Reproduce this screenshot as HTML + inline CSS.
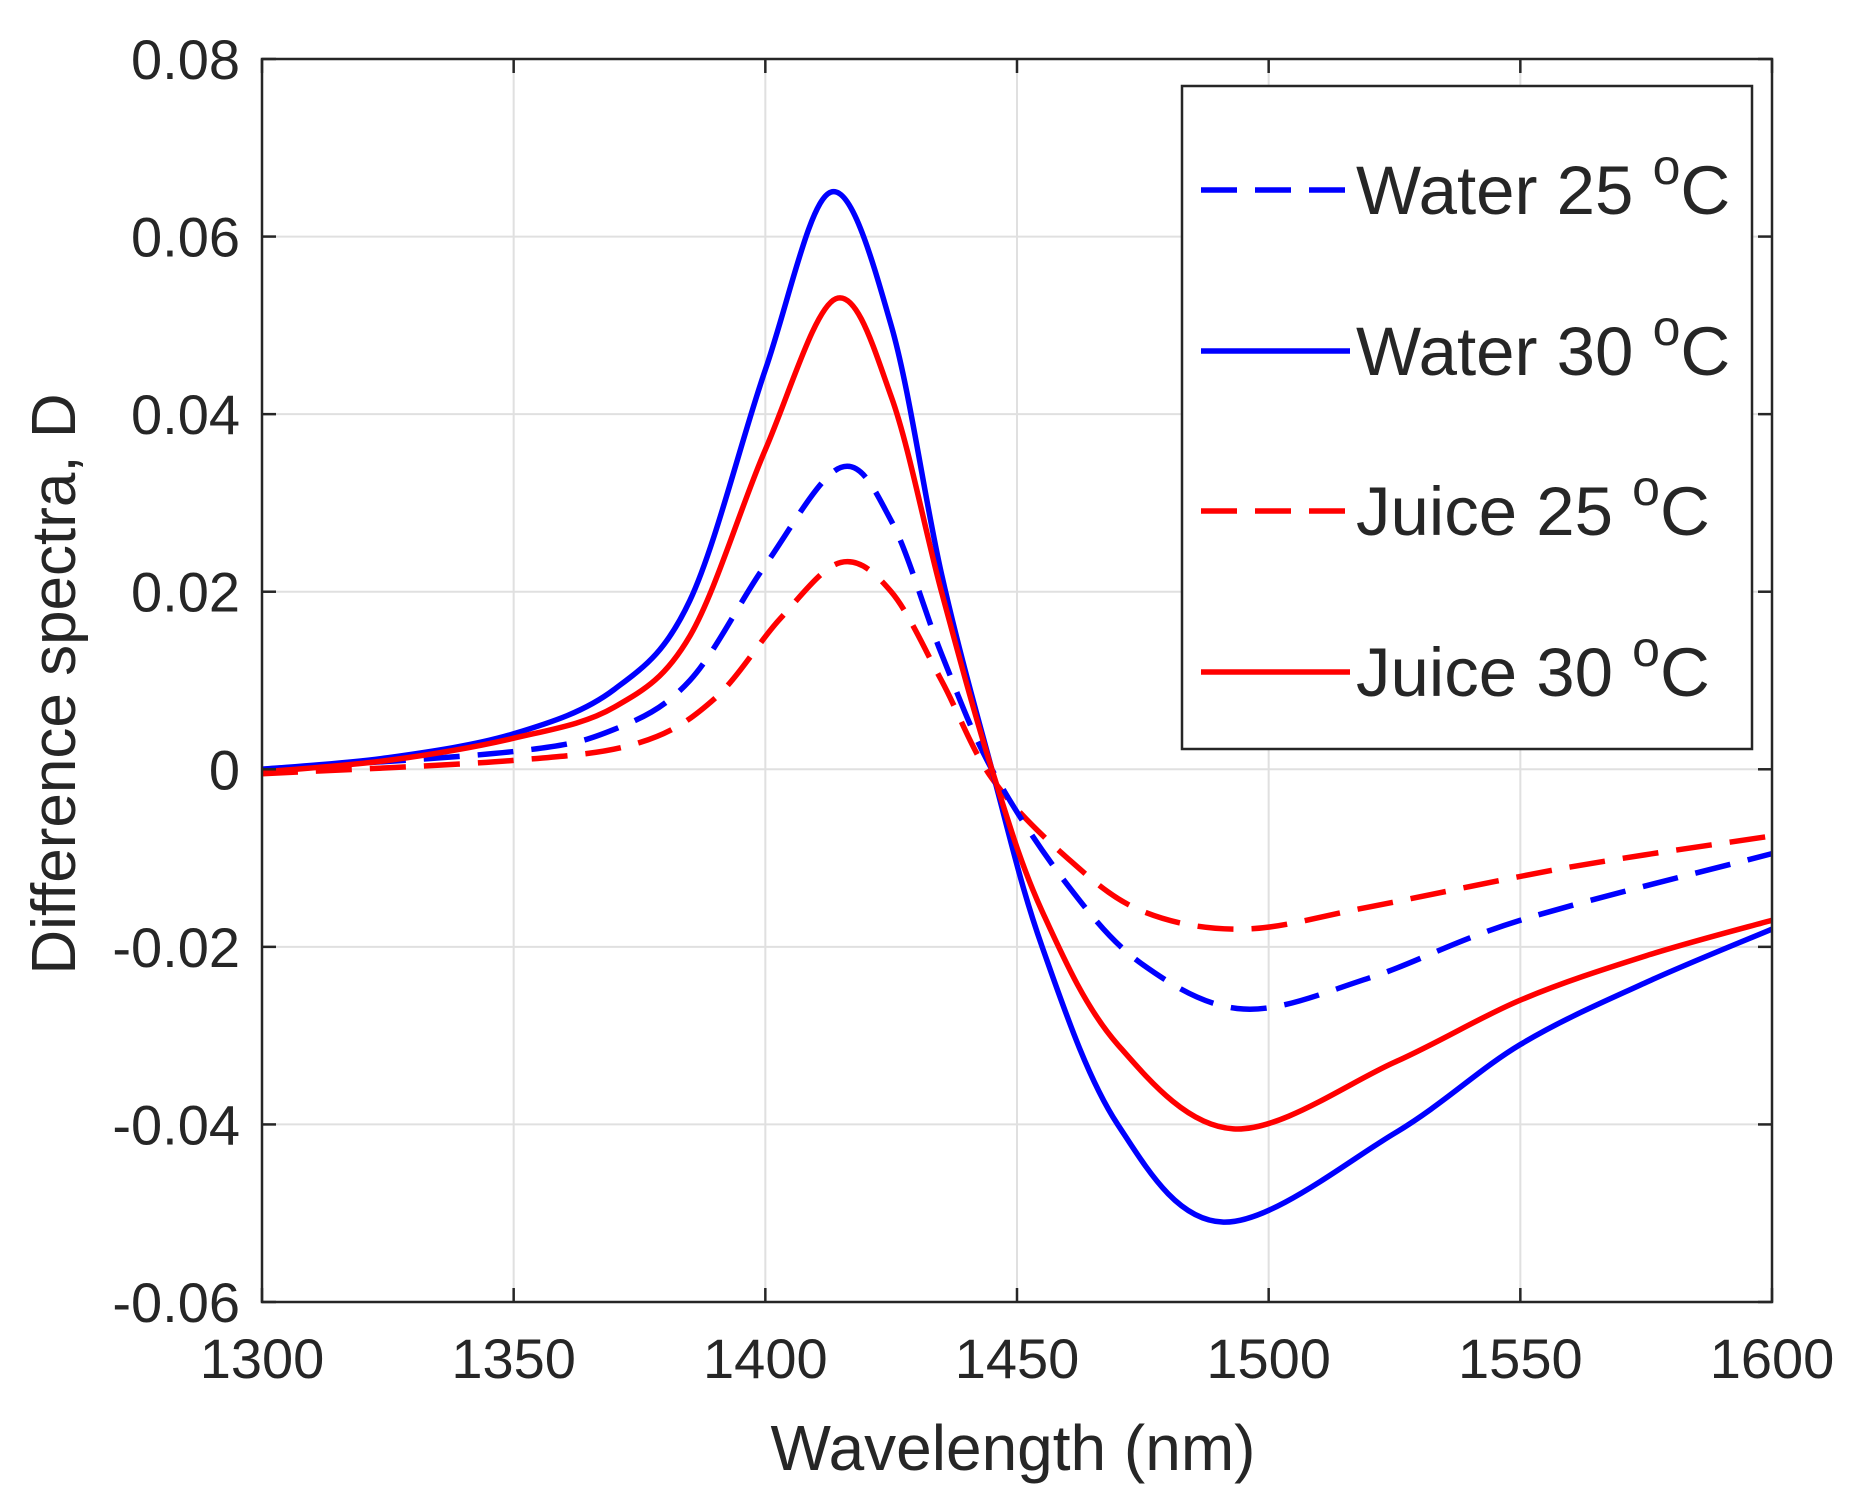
<!DOCTYPE html>
<html><head><meta charset="utf-8"><style>
html,body{margin:0;padding:0;background:#fff;}
svg{display:block;}
text{font-family:"Liberation Sans",Arial,sans-serif;fill:#262626;}
</style></head><body>
<svg id="s" width="1855" height="1506" viewBox="0 0 1855 1506" xmlns="http://www.w3.org/2000/svg">
<rect width="1855" height="1506" fill="#fff"/>
<g id="grid" stroke="#e0e0e0" stroke-width="2"></g>
<g id="curves" fill="none" stroke-width="5.5"></g>
<rect x="262" y="59" width="1510" height="1243" fill="none" stroke="#262626" stroke-width="2.5"/>
<g id="ticks" stroke="#262626" stroke-width="2.5"></g>
<g id="labels" font-size="56"></g>
<text x="1013" y="1470" font-size="64" text-anchor="middle">Wavelength (nm)</text>
<text transform="translate(75,684) rotate(-90)" font-size="62" text-anchor="middle">Difference spectra, D</text>
<rect x="1182" y="86" width="570" height="663" fill="#fff" stroke="#262626" stroke-width="2.5"/>
<g font-size="69">
<line x1="1201" y1="190" x2="1350" y2="190" stroke="#0000ff" stroke-width="5.5" stroke-dasharray="36 18"/>
<text x="1356" y="214">Water 25 <tspan font-size="50" dy="-30">o</tspan><tspan dy="30">C</tspan></text>
<line x1="1201" y1="351" x2="1350" y2="351" stroke="#0000ff" stroke-width="5.5"/>
<text x="1356" y="375">Water 30 <tspan font-size="50" dy="-30">o</tspan><tspan dy="30">C</tspan></text>
<line x1="1201" y1="511" x2="1350" y2="511" stroke="#ff0000" stroke-width="5.5" stroke-dasharray="36 18"/>
<text x="1356" y="535">Juice 25 <tspan font-size="50" dy="-30">o</tspan><tspan dy="30">C</tspan></text>
<line x1="1201" y1="672" x2="1350" y2="672" stroke="#ff0000" stroke-width="5.5"/>
<text x="1356" y="696">Juice 30 <tspan font-size="50" dy="-30">o</tspan><tspan dy="30">C</tspan></text>
</g>
</svg>
<script>
var L=262,R=1772,T=59,B=1302;
function X(v){return L+(v-1300)/300*(R-L);}
function Y(v){return T+(0.08-v)/0.14*(B-T);}
var ns="http://www.w3.org/2000/svg";
function el(p,t,a,txt){var e=document.createElementNS(ns,t);for(var k in a)e.setAttribute(k,a[k]);if(txt!=null)e.textContent=txt;document.getElementById(p).appendChild(e);}
for(var i=0;i<=6;i++){var x=X(1300+50*i);
 if(i>0&&i<6)el("grid","line",{x1:x,y1:T,x2:x,y2:B});
 el("ticks","line",{x1:x,y1:B,x2:x,y2:B-14});el("ticks","line",{x1:x,y1:T,x2:x,y2:T+14});
 el("labels","text",{x:x,y:B+76,"text-anchor":"middle"},String(1300+50*i));}
var yl=["0.08","0.06","0.04","0.02","0","-0.02","-0.04","-0.06"];
for(var j=0;j<8;j++){var v=0.08-0.02*j,y=Y(v);
 if(j>0&&j<7)el("grid","line",{x1:L,y1:y,x2:R,y2:y});
 el("ticks","line",{x1:L,y1:y,x2:L+14,y2:y});el("ticks","line",{x1:R,y1:y,x2:R-14,y2:y});
 el("labels","text",{x:L-22,y:y+20,"text-anchor":"end"},yl[j]);}
function path(pts){var P=pts.map(function(p){return [X(p[0]),Y(p[1])];});
 var d="M"+P[0][0]+","+P[0][1];
 for(var i=0;i<P.length-1;i++){var p0=P[i-1]||P[i],p1=P[i],p2=P[i+1],p3=P[i+2]||P[i+1];
  var c1=[p1[0]+(p2[0]-p0[0])/6,p1[1]+(p2[1]-p0[1])/6],c2=[p2[0]-(p3[0]-p1[0])/6,p2[1]-(p3[1]-p1[1])/6];
  d+=" C"+c1+" "+c2+" "+p2;}
 return d;}
var w30=[[1300,0],[1325,0.0013],[1350,0.004],[1370,0.009],[1385,0.019],[1400,0.045],[1413,0.065],[1425,0.05],[1435,0.022],[1445,0],[1455,-0.02],[1470,-0.04],[1491,-0.051],[1525,-0.041],[1550,-0.031],[1575,-0.024],[1600,-0.018]];
var j30=[[1300,-0.0003],[1325,0.001],[1350,0.0035],[1370,0.007],[1385,0.015],[1400,0.036],[1414,0.053],[1425,0.042],[1435,0.02],[1445,0],[1455,-0.016],[1470,-0.031],[1493,-0.0405],[1525,-0.033],[1550,-0.026],[1575,-0.021],[1600,-0.017]];
var w25=[[1300,0],[1350,0.002],[1370,0.0045],[1385,0.01],[1400,0.023],[1415,0.034],[1425,0.028],[1435,0.013],[1445,0],[1460,-0.013],[1475,-0.022],[1495,-0.027],[1520,-0.0235],[1550,-0.017],[1600,-0.0095]];
var j25=[[1300,-0.0005],[1350,0.001],[1375,0.003],[1390,0.008],[1403,0.017],[1415,0.0233],[1425,0.02],[1435,0.01],[1445,-0.001],[1460,-0.01],[1475,-0.016],[1495,-0.018],[1520,-0.0155],[1560,-0.011],[1600,-0.0075]];
el("curves","path",{d:path(j25),stroke:"#ff0000","stroke-dasharray":"36 18"});
el("curves","path",{d:path(w25),stroke:"#0000ff","stroke-dasharray":"36 18"});
el("curves","path",{d:path(w30),stroke:"#0000ff"});
el("curves","path",{d:path(j30),stroke:"#ff0000"});
</script>
</body></html>
